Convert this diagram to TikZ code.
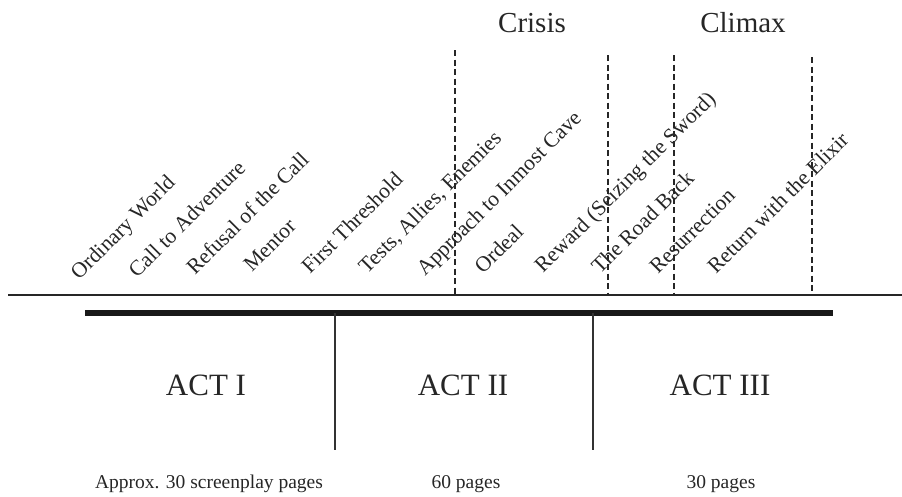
\documentclass[tikz,border=0pt]{standalone}
\usepackage{fontspec}
\setmainfont{Liberation Serif}
\begin{document}
\begin{tikzpicture}[x=1pt,y=-1pt,
  stage/.style={rotate=45,anchor=base west,inner sep=0pt,text=black!85,font=\fontsize{21.6}{21.6}\selectfont},
  peak/.style={anchor=base,inner sep=0pt,text=black!85,font=\fontsize{29}{29}\selectfont},
  actlabel/.style={anchor=base,inner sep=0pt,text=black!85,font=\fontsize{31}{31}\selectfont},
  pages/.style={anchor=base,inner sep=0pt,text=black!85,font=\fontsize{19.5}{19.5}\selectfont},
  thinline/.style={line width=1.3pt,black!85},
  thickline/.style={line width=6pt,black!90},
  divider/.style={line width=1.4pt,black!80},
  dashline/.style={line width=1.3pt,black!85,dash pattern=on 6pt off 3.5pt}]
\useasboundingbox (0,0) rectangle (902,496);
% axis lines
\coordinate (thinL) at (8,295);
\coordinate (thinR) at (902,295);
\coordinate (thickL) at (85,313);
\coordinate (thickR) at (833,313);
\draw[thinline] (thinL) -- (thinR);
\draw[thickline] (thickL) -- (thickR);
% act dividers
\coordinate (v1t) at (335,313); \coordinate (v1b) at (335,450);
\coordinate (v2t) at (593,313); \coordinate (v2b) at (593,450);
\draw[divider] (v1t) -- (v1b);
\draw[divider] (v2t) -- (v2b);
% dashed markers
\coordinate (d1t) at (455,50); \coordinate (d1b) at (455,295);
\coordinate (d2t) at (608,55); \coordinate (d2b) at (608,295);
\coordinate (d3t) at (674,55); \coordinate (d3b) at (674,295);
\coordinate (d4t) at (812,57); \coordinate (d4b) at (812,295);
\draw[dashline] (d1t) -- (d1b);
\draw[dashline] (d2t) -- (d2b);
\draw[dashline] (d3t) -- (d3b);
\draw[dashline] (d4t) -- (d4b);
% top labels
\node[peak] (crisis) at (532,32) {Crisis};
\node[peak] (climax) at (743,32) {Climax};
% stages
\node[stage] (s1) at (79,281) {Ordinary World};
\node[stage] (s2) at (137,279) {Call to Adventure};
\node[stage] (s3) at (195,276) {Refusal of the Call};
\node[stage] (s4) at (252,273) {Mentor};
\node[stage] (s5) at (310,275) {First Threshold};
\node[stage] (s6) at (367,275) {Tests, Allies, Enemies};
\node[stage] (s7) at (425,277) {Approach to Inmost Cave};
\node[stage] (s8) at (483,275) {Ordeal};
\node[stage] (s9) at (543,274) {Reward (Seizing the Sword)};
\node[stage] (s10) at (600,275) {The Road Back};
\node[stage] (s11) at (658,275) {Resurrection};
\node[stage] (s12) at (716,275) {Return with the Elixir};
% acts
\node[actlabel] (a1) at (206,395) {ACT I};
\node[actlabel] (a2) at (463,395) {ACT II};
\node[actlabel] (a3) at (720,395) {ACT III};
% page counts
\node[pages] (p1) at (209,488) {Approx. 30 screenplay pages};
\node[pages] (p2) at (466,488) {60 pages};
\node[pages] (p3) at (721,488) {30 pages};
\end{tikzpicture}
\end{document}
